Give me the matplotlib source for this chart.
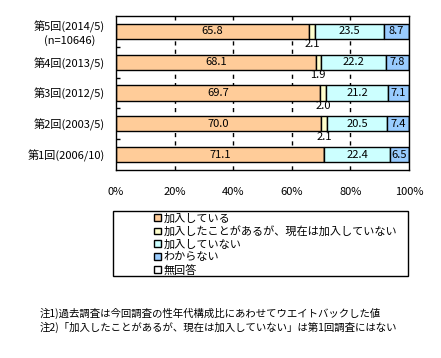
import matplotlib
matplotlib.use("Agg")
import matplotlib.pyplot as plt
from matplotlib.patches import Rectangle
import numpy as np

plt.rcParams['font.family'] = ['Noto Sans CJK JP', 'DejaVu Sans']

# ---------------------------------------------------------------------------
# Data (top row first)
# ---------------------------------------------------------------------------
rounds = ["第5回(2014/5)\n(n=10646)", "第4回(2013/5)", "第3回(2012/5)",
          "第2回(2003/5)", "第1回(2006/10)"]
joined = [65.8, 68.1, 69.7, 70.0, 71.1]
was_joined = [2.1, 1.9, 2.0, 2.1, 0.0]
not_joined = [23.5, 22.2, 21.2, 20.5, 22.4]
unknown = [8.7, 7.8, 7.1, 7.4, 6.5]
no_answer = [0.0, 0.0, 0.0, 0.0, 0.0]

series = [joined, was_joined, not_joined, unknown, no_answer]
names = ["加入している", "加入したことがあるが、現在は加入していない",
         "加入していない", "わからない", "無回答"]
colors = ["#FFCC99", "#FFFFCC", "#CCFFFF", "#99CCFF", "#FFFFFF"]

notes = ["注1)過去調査は今回調査の性年代構成比にあわせてウエイトバックした値",
         "注2)「加入したことがあるが、現在は加入していない」は第1回調査にはない"]

# ---------------------------------------------------------------------------
fig = plt.figure(figsize=(4.41, 3.58), dpi=100)
ax = fig.add_axes([116/441, 1 - 170/358, 293/441, 154/358])

y = np.arange(len(rounds))[::-1]
left = np.zeros(len(rounds))
handles = []
for vals, name, col in zip(series, names, colors):
    vals = np.array(vals)
    h = ax.barh(y, vals, 0.49, left=left, color=col, edgecolor='black',
                linewidth=1.0, label=name)
    handles.append(h)
    left += vals

# value labels
for i in range(len(rounds)):
    yy = y[i]
    ax.text(joined[i] / 2, yy, f"{joined[i]:.1f}", ha='center', va='center',
            fontsize=8)
    if was_joined[i] > 0:
        xc = joined[i] + was_joined[i] / 2
        ax.text(xc, yy - 0.42, f"{was_joined[i]:.1f}", ha='center',
                va='center', fontsize=8)
    x0 = joined[i] + was_joined[i]
    ax.text(x0 + not_joined[i] / 2, yy, f"{not_joined[i]:.1f}", ha='center',
            va='center', fontsize=8)
    x1 = x0 + not_joined[i]
    ax.text(x1 + unknown[i] / 2, yy, f"{unknown[i]:.1f}", ha='center',
            va='center', fontsize=8)

ax.set_xlim(0, 100)
ax.set_ylim(-0.5, len(rounds) - 0.5)
ax.set_xticks(np.arange(0, 101, 20))
ax.set_xticklabels([f"{v}%" for v in range(0, 101, 20)], fontsize=8)
ax.tick_params(axis='x', length=0, pad=12)
ax.set_yticks(y)
ax.set_yticklabels(rounds, fontsize=8, ha='right', multialignment='center')
ax.tick_params(axis='y', which='major', length=0, pad=8)
ax.set_yticks(np.arange(0.5, len(rounds) - 0.5, 1), minor=True)
ax.tick_params(axis='y', which='minor', direction='in', length=3, width=1)
for xv in [20, 40, 60, 80]:
    ax.axvline(xv, color='black', linestyle=(0, (3, 3)), linewidth=1,
               zorder=0)
for s in ax.spines.values():
    s.set_linewidth(1.0)

# legend box
fig.patches.append(Rectangle((113/441, 1 - 276/358), 295/441, 65/358,
                             transform=fig.transFigure, facecolor='white',
                             edgecolor='black', linewidth=1.0))
fig.legend(handles=handles, labels=names, loc='upper left',
           bbox_to_anchor=(150/441, 1 - 209/358), frameon=False,
           fontsize=8, handlelength=0.55, handleheight=0.55,
           handletextpad=0.3, labelspacing=0.22, borderaxespad=0)

fig.text(40/441, 1 - 313/358, notes[0], fontsize=7.5, va='center')
fig.text(40/441, 1 - 327/358, notes[1], fontsize=7.5, va='center')

fig.savefig("out.png", dpi=100)
